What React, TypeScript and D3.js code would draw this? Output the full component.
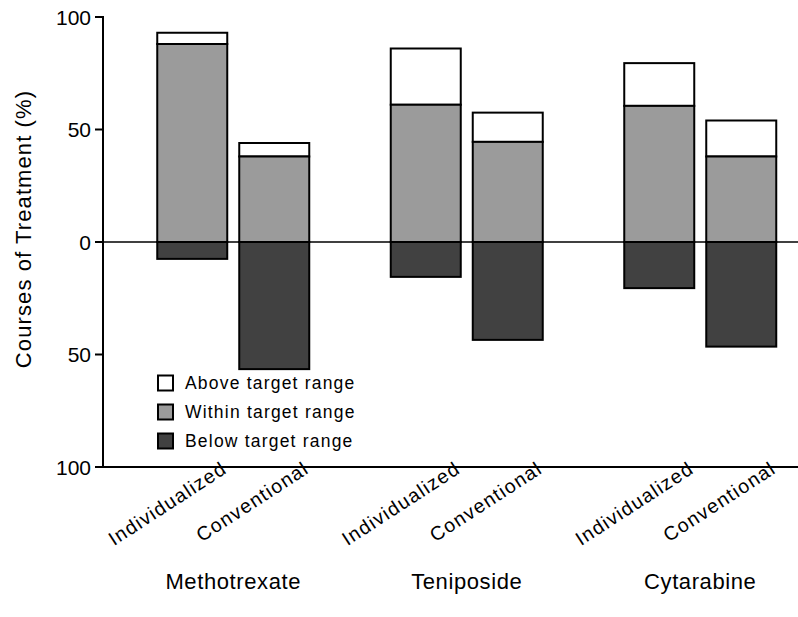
import React from "react";
import * as d3 from "d3";

const drugs = ["Methotrexate", "Teniposide", "Cytarabine"];
const methods = ["Individualized", "Conventional"];
// order: M-Ind, M-Conv, T-Ind, T-Conv, C-Ind, C-Conv
const withinValues = [88, 38, 61, 44.5, 60.5, 38];
const aboveValues = [5, 6, 25, 13, 19, 16];
const belowValues = [7.5, 56.5, 15.5, 43.5, 20.5, 46.5];
const yTicks = [-100, -50, 0, 50, 100];
const legendItems = ["Above target range", "Within target range", "Below target range"];

const W = 798;
const H = 617;
const FONT = "'Liberation Sans', Arial, Helvetica, sans-serif";
const WHITE = "#ffffff";
const GRAY = "#9b9b9b";
const DARK = "#414141";

export default function App() {
  const y = d3.scaleLinear().domain([-100, 100]).range([467, 17]);
  const outer = d3.scaleBand().domain(drugs).range([116.5, 817]).padding(0);
  const inner = d3.scaleBand().domain(methods).range([0, 152]).paddingInner(12 / 82).paddingOuter(0);
  const axisX = 103;

  const bars: any[] = [];
  drugs.forEach((drug, gi) => {
    methods.forEach((m, mi) => {
      const i = gi * 2 + mi;
      const x0 = (outer(drug) as number) + outer.bandwidth() / 2 - 76 + (inner(m) as number);
      bars.push({ drug, m, i, x0, w: inner.bandwidth() });
    });
  });

  const legendColors = [WHITE, GRAY, DARK];

  return (
    <svg width={W} height={H} style={{ position: "absolute", left: 0, top: 0, background: "#fff" }} fontFamily={FONT}>
      {/* bars */}
      {bars.map((b) => {
        const wv = withinValues[b.i];
        const av = aboveValues[b.i];
        const bv = belowValues[b.i];
        return (
          <g key={b.i}>
            <rect x={b.x0} y={y(wv + av)} width={b.w} height={y(wv) - y(wv + av)} fill={WHITE} stroke="#000" strokeWidth={2} />
            <rect x={b.x0} y={y(wv)} width={b.w} height={y(0) - y(wv)} fill={GRAY} stroke="#000" strokeWidth={2} />
            <rect x={b.x0} y={y(0)} width={b.w} height={y(-bv) - y(0)} fill={DARK} stroke="#000" strokeWidth={2} />
          </g>
        );
      })}
      {/* zero line */}
      <line x1={axisX} x2={W} y1={y(0)} y2={y(0)} stroke="#000" strokeWidth={1.6} />
      {/* bottom line */}
      <line x1={axisX - 1} x2={W} y1={y(-100)} y2={y(-100)} stroke="#000" strokeWidth={2} />
      {/* y axis */}
      <line x1={axisX} x2={axisX} y1={y(100) - 1} y2={y(-100)} stroke="#000" strokeWidth={2} />
      {yTicks.map((t) => (
        <g key={t}>
          <line x1={axisX - 8} x2={axisX} y1={y(t)} y2={y(t)} stroke="#000" strokeWidth={2} />
          <text x={axisX - 12} y={y(t)} dy="0.36em" textAnchor="end" fontSize={21} fill="#000">
            {Math.abs(t)}
          </text>
        </g>
      ))}
      <text transform={`translate(31,229) rotate(-90)`} textAnchor="middle" fontSize={22} letterSpacing={1.1} fill="#000">
        Courses of Treatment (%)
      </text>
      {/* method labels */}
      {bars.map((b) => (
        <text
          key={"l" + b.i}
          transform={`translate(${b.x0 + b.w / 2 + 36},472) rotate(-33)`}
          textAnchor="end"
          fontSize={19.5}
          letterSpacing={1.3}
          fill="#000"
        >
          {b.m}
        </text>
      ))}
      {/* group labels */}
      {drugs.map((d) => (
        <text key={d} x={(outer(d) as number) + outer.bandwidth() / 2} y={589} textAnchor="middle" fontSize={22} letterSpacing={0.6} fill="#000">
          {d}
        </text>
      ))}
      {/* legend */}
      {legendItems.map((l, i) => (
        <g key={l} transform={`translate(157,${383 + i * 29})`}>
          <rect x={1} y={-7.5} width={15} height={15} fill={legendColors[i]} stroke="#000" strokeWidth={2} />
          <text x={28} y={0} dy="0.36em" fontSize={17.5} letterSpacing={1.2} fill="#000">
            {l}
          </text>
        </g>
      ))}
    </svg>
  );
}
